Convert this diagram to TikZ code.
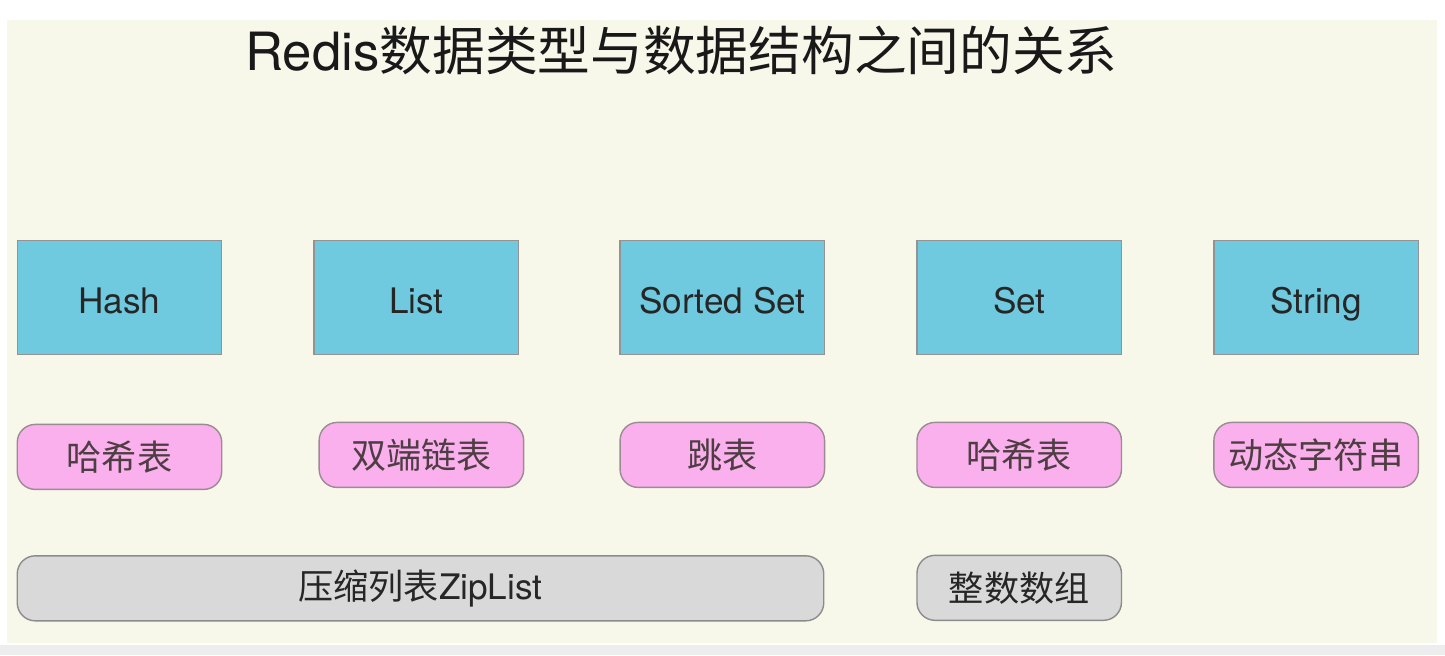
\documentclass[tikz,border=0pt]{standalone}
\usepackage{fontspec}
\setmainfont{TeX Gyre Heros}
\newfontfamily\cjk{Noto Sans CJK SC}
\usetikzlibrary{positioning}

\definecolor{panelbg}{HTML}{F7F8EA}
\definecolor{typeblue}{HTML}{6FC9DF}
\definecolor{structpink}{HTML}{F9B0EC}
\definecolor{sharedgray}{HTML}{D9D9D9}

\begin{document}
\begin{tikzpicture}[node distance=1.82cm,
    datatype/.style={rectangle,draw=gray!85,line width=0.8pt,fill=typeblue,minimum width=4.09cm,minimum height=2.28cm,text height=18pt,text depth=0pt,font=\fontsize{20}{24}\selectfont,text=black!85},
    structure/.style={rectangle,rounded corners=0.36cm,draw=gray!90!magenta,line width=0.8pt,fill=structpink,minimum width=4.09cm,minimum height=1.3cm,inner xsep=2pt,font=\fontsize{20}{24}\selectfont\cjk,text=black!80!magenta},
    shared/.style={structure,fill=sharedgray,draw=gray!90,text=black!85}]
    \useasboundingbox (0,0) rectangle (28.9,-13.1);
    \fill[white] (0,0) rectangle (28.9,-13.1);
    \fill[black!7] (0,-12.9) rectangle (28.9,-13.1);
    \fill[panelbg] (0.14,-0.4) rectangle (28.74,-12.86);

    \node[text=black!90] (title) at (13.63,-1.0) {\fontsize{30}{36}\selectfont Redis{\cjk 数据类型与数据结构之间的关系}};

    % data types
    \node[datatype] (hash) at (2.39,-5.95) {Hash};
    \node[datatype] (list) [right=of hash] {List};
    \node[datatype] (zset) [right=2.0cm of list] {Sorted Set};
    \node[datatype] (set) [right=of zset] {Set};
    \node[datatype] (string) [right=of set] {String};

    % structures
    \node[structure] (hashtable) [below=1.33cm of hash, yshift=-0.04cm] {哈希表};
    \node[structure] (linkedlist) [below=1.33cm of list, xshift=0.1cm] {双端链表};
    \node[structure] (skiplist) [below=1.33cm of zset] {跳表};
    \node[structure] (sethash) [below=1.33cm of set] {哈希表};
    \node[structure] (sds) [below=1.33cm of string] {动态字符串};

    \node[shared, minimum width=16.13cm] (ziplist) [below=1.3cm of hashtable.south west, anchor=north west] {{\cjk 压缩列表}\fontspec{TeX Gyre Heros}ZipList};
    \node[shared] (intset) [below=1.33cm of sethash] {整数数组};
\end{tikzpicture}
\end{document}
